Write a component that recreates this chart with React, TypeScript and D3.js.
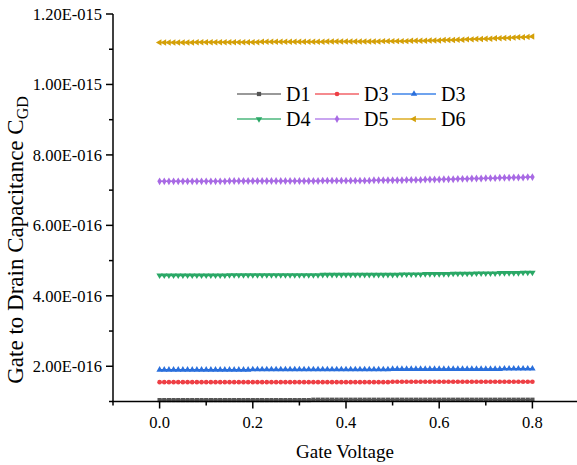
import React from "react";
import * as d3 from "d3";

const UNIT = 1e-16;
const xValues: number[] = d3.range(0, 81).map((i) => i / 100);

const D1: number[] = [
  1.04,1.04,1.04,1.04,1.04,1.04,1.04,1.04,1.04,1.04,
  1.04,1.04,1.04,1.04,1.04,1.04,1.04,1.04,1.04,1.04,
  1.04,1.04,1.04,1.04,1.04,1.04,1.04,1.04,1.04,1.04,
  1.04,1.04,1.04,1.05,1.05,1.05,1.05,1.05,1.05,1.05,
  1.05,1.05,1.05,1.05,1.05,1.05,1.05,1.05,1.05,1.05,
  1.05,1.05,1.05,1.05,1.05,1.05,1.05,1.05,1.05,1.05,
  1.05,1.05,1.05,1.05,1.05,1.05,1.05,1.05,1.05,1.05,
  1.05,1.05,1.05,1.05,1.05,1.05,1.05,1.05,1.05,1.05,
  1.05,
];
const D3a: number[] = [
  1.55,1.55,1.55,1.55,1.55,1.55,1.55,1.55,1.55,1.55,
  1.55,1.55,1.55,1.55,1.55,1.55,1.55,1.55,1.55,1.55,
  1.55,1.55,1.55,1.55,1.55,1.55,1.55,1.55,1.55,1.55,
  1.55,1.55,1.55,1.55,1.55,1.55,1.55,1.55,1.55,1.55,
  1.55,1.55,1.55,1.55,1.55,1.55,1.55,1.55,1.55,1.55,
  1.56,1.56,1.56,1.56,1.56,1.56,1.56,1.56,1.56,1.56,
  1.56,1.56,1.56,1.56,1.56,1.56,1.56,1.56,1.56,1.56,
  1.56,1.56,1.56,1.56,1.56,1.56,1.56,1.56,1.56,1.56,
  1.56,
];
const D3b: number[] = [
  1.90,1.90,1.90,1.90,1.90,1.90,1.90,1.90,1.90,1.90,
  1.90,1.90,1.90,1.90,1.90,1.90,1.90,1.90,1.90,1.90,
  1.91,1.91,1.91,1.91,1.91,1.91,1.91,1.91,1.91,1.91,
  1.91,1.91,1.91,1.91,1.91,1.91,1.91,1.91,1.91,1.91,
  1.91,1.91,1.91,1.91,1.91,1.91,1.91,1.91,1.91,1.91,
  1.92,1.92,1.92,1.92,1.92,1.92,1.92,1.92,1.92,1.92,
  1.92,1.92,1.92,1.92,1.92,1.92,1.92,1.92,1.92,1.92,
  1.92,1.92,1.92,1.92,1.93,1.93,1.93,1.93,1.93,1.93,
  1.93,
];
const D4: number[] = [
  4.58,4.58,4.58,4.58,4.58,4.58,4.58,4.58,4.58,4.58,
  4.58,4.58,4.58,4.58,4.58,4.59,4.59,4.59,4.59,4.59,
  4.59,4.59,4.59,4.59,4.59,4.59,4.59,4.59,4.59,4.59,
  4.59,4.59,4.59,4.59,4.59,4.60,4.60,4.60,4.60,4.60,
  4.60,4.60,4.60,4.60,4.60,4.60,4.60,4.60,4.60,4.60,
  4.60,4.60,4.61,4.61,4.61,4.61,4.61,4.62,4.62,4.62,
  4.62,4.62,4.62,4.63,4.63,4.63,4.63,4.63,4.64,4.64,
  4.64,4.64,4.64,4.65,4.65,4.65,4.65,4.65,4.66,4.66,
  4.66,
];
const D5: number[] = [
  7.25,7.25,7.25,7.25,7.25,7.25,7.25,7.25,7.25,7.25,
  7.25,7.25,7.25,7.25,7.25,7.26,7.26,7.26,7.26,7.26,
  7.26,7.26,7.26,7.26,7.26,7.26,7.26,7.26,7.26,7.26,
  7.26,7.26,7.26,7.26,7.26,7.27,7.27,7.27,7.27,7.27,
  7.27,7.27,7.27,7.27,7.27,7.27,7.28,7.28,7.28,7.28,
  7.28,7.28,7.28,7.29,7.29,7.29,7.29,7.30,7.30,7.30,
  7.30,7.31,7.31,7.31,7.32,7.32,7.32,7.33,7.33,7.33,
  7.34,7.34,7.34,7.35,7.35,7.35,7.36,7.36,7.36,7.37,
  7.37,
];
const D6: number[] = [
  11.19,11.19,11.19,11.19,11.19,11.19,11.19,11.19,11.20,11.20,
  11.20,11.20,11.20,11.20,11.20,11.20,11.20,11.20,11.20,11.20,
  11.20,11.20,11.21,11.21,11.21,11.21,11.21,11.21,11.21,11.21,
  11.21,11.21,11.21,11.21,11.21,11.21,11.22,11.22,11.22,11.22,
  11.22,11.22,11.22,11.22,11.22,11.22,11.22,11.22,11.23,11.23,
  11.23,11.23,11.23,11.23,11.24,11.24,11.24,11.24,11.25,11.25,
  11.25,11.26,11.26,11.26,11.27,11.27,11.28,11.28,11.29,11.29,
  11.30,11.30,11.31,11.31,11.32,11.32,11.33,11.34,11.34,11.35,
  11.36,
];

const seriesNames: string[] = ["D1", "D3", "D3", "D4", "D5", "D6"];
const seriesValues: number[][] = [D1, D3a, D3b, D4, D5, D6];
const seriesColors: string[] = ["#555555", "#ee3f45", "#2a6fdc", "#2aa866", "#a86ae4", "#d4a008"];
const seriesLegendColors: string[] = ["#999999", "#f58a8e", "#6fa3ee", "#78c99d", "#c9a5f0", "#e5c15a"];
const seriesSymbols = [d3.symbolSquare, d3.symbolCircle, d3.symbolTriangle, d3.symbolTriangle, d3.symbolDiamond, d3.symbolTriangle];
const seriesRotate: number[] = [0, 0, 0, 180, 0, -90];
const seriesSizes: number[] = [18, 17, 18, 18, 18, 18];

const yTicks: number[] = [2e-16, 4e-16, 6e-16, 8e-16, 1e-15, 1.2e-15];
const yTickLabels: string[] = ["2.00E-016", "4.00E-016", "6.00E-016", "8.00E-016", "1.00E-015", "1.20E-015"];
const yMinorTicks: number[] = [1e-16, 3e-16, 5e-16, 7e-16, 9e-16, 1.1e-15];
const xTicks: number[] = [0, 0.2, 0.4, 0.6, 0.8];
const xTickLabels: string[] = ["0.0", "0.2", "0.4", "0.6", "0.8"];
const xMinorTicks: number[] = [-0.1, 0.1, 0.3, 0.5, 0.7, 0.9];

const W = 577;
const H = 465;
const FONT = "'Liberation Serif', 'Times New Roman', serif";

export default function App() {
  const left = 113;
  const x = d3.scaleLinear().domain([-0.1, 0.9]).range([left, left + 466]);
  const y = d3.scaleLinear().domain([1e-16, 1.2e-15]).range([401.5, 14]);
  const axisBottom = 401.5;

  const line = d3
    .line<number>()
    .x((_, i) => x(xValues[i]))
    .y((v) => y(v * UNIT));

  const legendRows = [
    [0, 1, 2],
    [3, 4, 5],
  ];
  const legendX = [237, 315, 392];
  const legendY = [94, 119];

  return (
    <svg width={W} height={H} style={{ position: "absolute", left: 0, top: 0, background: "#fff" }}>
      <rect x={0} y={0} width={W} height={H} fill="#fff" />
      {seriesValues.map((vals, si) => (
        <g key={si}>
          <path d={line(vals) || ""} fill="none" stroke={seriesColors[si]} strokeWidth={1.5} />
          {vals.map((v, i) => (
            <path
              key={i}
              d={d3.symbol().type(seriesSymbols[si]).size(seriesSizes[si])() || ""}
              transform={`translate(${x(xValues[i])},${y(v * UNIT)}) rotate(${seriesRotate[si]})`}
              fill={seriesColors[si]}
            />
          ))}
        </g>
      ))}

      <line x1={left} x2={left} y1={y(1.2e-15)} y2={axisBottom} stroke="#000" strokeWidth={1.5} />
      {yTicks.map((t, i) => (
        <g key={i}>
          <line x1={left - 7} x2={left} y1={y(t)} y2={y(t)} stroke="#000" strokeWidth={1.5} />
          <text x={left - 11} y={y(t)} dy="0.35em" textAnchor="end" fontFamily={FONT} fontSize={16.5}>
            {yTickLabels[i]}
          </text>
        </g>
      ))}
      {yMinorTicks.map((t, i) => (
        <line key={i} x1={left - 4} x2={left} y1={y(t)} y2={y(t)} stroke="#000" strokeWidth={1.5} />
      ))}

      <line x1={left - 1} x2={W} y1={axisBottom} y2={axisBottom} stroke="#000" strokeWidth={1.5} />
      {xTicks.map((t, i) => (
        <g key={i}>
          <line x1={x(t)} x2={x(t)} y1={axisBottom} y2={axisBottom + 7} stroke="#000" strokeWidth={1.5} />
          <text x={x(t)} y={428} textAnchor="middle" fontFamily={FONT} fontSize={16.5}>
            {xTickLabels[i]}
          </text>
        </g>
      ))}
      {xMinorTicks.map((t, i) => (
        <line key={i} x1={x(t)} x2={x(t)} y1={axisBottom} y2={axisBottom + 4} stroke="#000" strokeWidth={1.5} />
      ))}

      <text x={345} y={458} textAnchor="middle" fontFamily={FONT} fontSize={19}>
        Gate Voltage
      </text>
      <text
        transform={`translate(23,${240}) rotate(-90)`}
        textAnchor="middle"
        fontFamily={FONT}
        fontSize={23}
      >
        Gate to Drain Capacitance C
        <tspan fontSize={16} dy={5}>GD</tspan>
      </text>

      {legendRows.map((row, ri) =>
        row.map((si, ci) => {
          const lx = legendX[ci];
          const ly = legendY[ri];
          return (
            <g key={`${ri}-${ci}`}>
              <line x1={lx} x2={lx + 44} y1={ly} y2={ly} stroke={seriesLegendColors[si]} strokeWidth={2} />
              <path
                d={d3.symbol().type(seriesSymbols[si]).size(seriesSizes[si])() || ""}
                transform={`translate(${lx + 22},${ly}) rotate(${seriesRotate[si]})`}
                fill={seriesColors[si]}
              />
              <text x={lx + 49} y={ly} dy="0.35em" fontFamily={FONT} fontSize={20}>
                {seriesNames[si]}
              </text>
            </g>
          );
        })
      )}
    </svg>
  );
}
